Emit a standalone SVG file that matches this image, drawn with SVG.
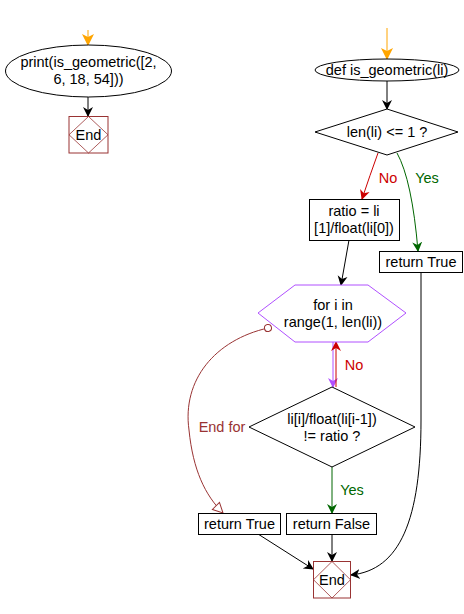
<svg xmlns="http://www.w3.org/2000/svg" width="464" height="614" viewBox="0 0 464 614">
<style>
text{font-family:"Liberation Sans",Arial,sans-serif;font-size:14.5px;text-anchor:middle;fill:#000}
.n{fill:#fff;stroke:#000;stroke-width:1}
.end rect{fill:#fff;stroke:#993333;stroke-width:1}
.end path{fill:none;stroke:#993333;stroke-width:0.8}
.c{fill:none;stroke-width:1}
</style>
<defs>
<marker id="ab" markerWidth="10" markerHeight="14" refX="9" refY="7" orient="auto" markerUnits="userSpaceOnUse"><path d="M0,2 L10,7 L0,12 L3,7 Z" fill="#000"/></marker>
<marker id="ao" markerWidth="12" markerHeight="16" refX="11" refY="8" orient="auto" markerUnits="userSpaceOnUse"><path d="M0,2 L12,8 L0,14 L3,8 Z" fill="#ffa500"/></marker>
<marker id="ar" markerWidth="10" markerHeight="14" refX="9" refY="7" orient="auto" markerUnits="userSpaceOnUse"><path d="M0,2 L10,7 L0,12 L3,7 Z" fill="#cc0000"/></marker>
<marker id="ag" markerWidth="10" markerHeight="14" refX="9" refY="7" orient="auto" markerUnits="userSpaceOnUse"><path d="M0,2 L10,7 L0,12 L3,7 Z" fill="#006600"/></marker>
<marker id="ap" markerWidth="10" markerHeight="14" refX="9" refY="7" orient="auto" markerUnits="userSpaceOnUse"><path d="M0,2 L10,7 L0,12 L3,7 Z" fill="#b050ff"/></marker>
<marker id="ah" markerWidth="12" markerHeight="14" refX="11" refY="7" orient="auto" markerUnits="userSpaceOnUse"><path d="M1,2 L11,7 L1,12 Z" fill="#fff" stroke="#993333" stroke-width="1"/></marker>
<marker id="cs" markerWidth="10" markerHeight="10" refX="5" refY="5" orient="auto" markerUnits="userSpaceOnUse"><circle cx="5" cy="5" r="3.5" fill="#fff" stroke="#993333" stroke-width="1"/></marker>
</defs>

<g id="connectors">
<path class="c" d="M88,30 L88,45" stroke="#ffa500" stroke-width="2" marker-end="url(#ao)"/>
<path class="c" d="M88,97 L88,116" stroke="#000" marker-end="url(#ab)"/>
<path class="c" d="M387,28 L387,59" stroke="#ffa500" stroke-width="2" marker-end="url(#ao)"/>
<path class="c" d="M387,81 L387,109" stroke="#000" marker-end="url(#ab)"/>
<path class="c" d="M378,153 Q370,175 362,199" stroke="#cc0000" marker-end="url(#ar)"/>
<path class="c" d="M397,153 Q412,180 418,251" stroke="#006600" marker-end="url(#ag)"/>
<path class="c" d="M349,240 L341,285" stroke="#000" marker-end="url(#ab)"/>
<path class="c" d="M333,342 L333,387" stroke="#b050ff" stroke-width="1.5" marker-end="url(#ap)"/>
<path class="c" d="M336,387 L336,342" stroke="#cc0000" stroke-width="1.2" marker-end="url(#ar)"/>
<path class="c" d="M332,466 L332,513" stroke="#006600" marker-end="url(#ag)"/>
<path class="c" d="M268,328 C215,340 182,380 189,430 C193,470 205,495 223,513" stroke="#993333" marker-start="url(#cs)" marker-end="url(#ah)"/>
<path class="c" d="M332,534 L332,561" stroke="#000" marker-end="url(#ab)"/>
<path class="c" d="M258,534 L313,569" stroke="#000" marker-end="url(#ab)"/>
<path class="c" d="M421,273 L421,420 C421,520 400,570 351,575" stroke="#000" marker-end="url(#ab)"/>
<text x="388" y="183" style="fill:#cc0000">No</text>
<text x="427" y="183" style="fill:#006600">Yes</text>
<text x="354" y="370" style="fill:#cc0000">No</text>
<text x="222" y="432" style="fill:#993333">End for</text>
<text x="352" y="495" style="fill:#006600">Yes</text>
</g>

<g id="print_call">
<ellipse class="n" cx="88.5" cy="71" rx="83" ry="26"/>
<text x="88.5" y="67">print(is_geometric([2,</text>
<text x="88.5" y="84">6, 18, 54]))</text>
</g>
<g id="end1" class="end">
<rect x="69" y="116.5" width="39" height="36.5"/>
<path d="M88.5,116.5 L108,134.75 L88.5,153 L69,134.75 Z"/>
<text x="88.5" y="140">End</text>
</g>

<g id="def">
<ellipse class="n" cx="387" cy="70" rx="72" ry="11"/>
<text x="387" y="75">def is_geometric(li)</text>
</g>
<g id="cond1">
<polygon class="n" points="387,109 458,132 387,155 315,132"/>
<text x="387" y="137">len(li) &lt;= 1 ?</text>
</g>
<g id="ratio">
<rect class="n" x="309.5" y="199.5" width="90" height="41"/>
<text x="354" y="216">ratio = li</text>
<text x="354" y="233">[1]/float(li[0])</text>
</g>
<g id="ret_true_right">
<rect class="n" x="379.5" y="251.5" width="83" height="21"/>
<text x="421" y="267">return True</text>
</g>
<g id="for_loop">
<polygon points="258,313 295,285 368,285 406,313 368,342 295,342" fill="#fff" stroke="#b050ff" stroke-width="1"/>
<text x="333" y="310">for i in</text>
<text x="333" y="327">range(1, len(li))</text>
</g>
<g id="cond2">
<polygon class="n" points="332,387 415,427 332,467 249,427"/>
<text x="332" y="424">li[i]/float(li[i-1])</text>
<text x="332" y="441">!= ratio ?</text>
</g>
<g id="ret_true_left">
<rect class="n" x="198.5" y="513.5" width="82" height="21"/>
<text x="239.5" y="529">return True</text>
</g>
<g id="ret_false">
<rect class="n" x="286.5" y="513.5" width="90" height="21"/>
<text x="331.5" y="529">return False</text>
</g>
<g id="end2" class="end">
<rect x="313.5" y="561.5" width="37" height="36.5"/>
<path d="M332,561.5 L350.5,579.75 L332,598 L313.5,579.75 Z"/>
<text x="332" y="585">End</text>
</g>
</svg>
